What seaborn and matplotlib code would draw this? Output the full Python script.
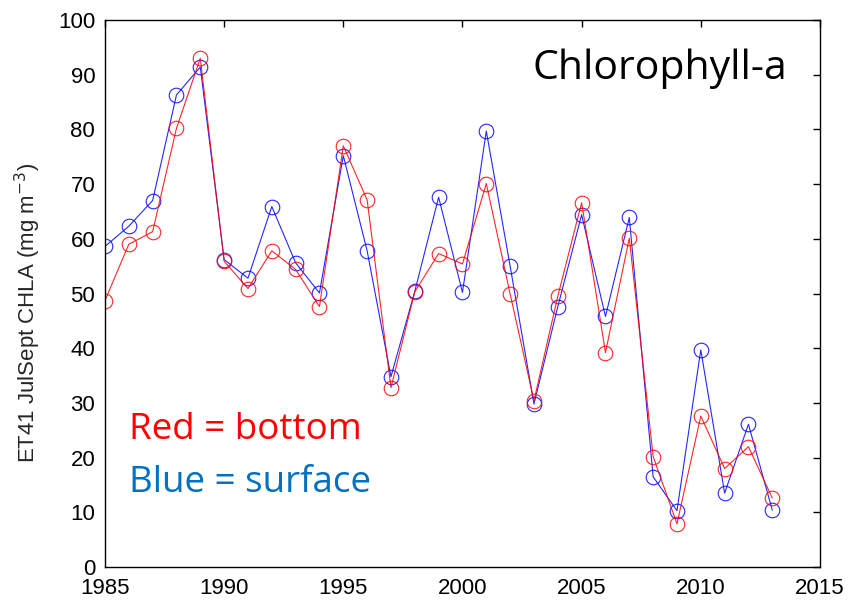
import matplotlib
matplotlib.use("Agg")
import matplotlib.pyplot as plt
import seaborn as sns
import pandas as pd

years = list(range(1985, 2014))
surface = [58.6, 62.3, 67.0, 86.3, 91.4, 56.2, 52.8, 65.9, 55.6, 50.1,
           75.2, 57.8, 34.8, 50.4, 67.6, 50.2, 79.7, 55.0, 29.8, 47.6,
           64.4, 45.8, 63.9, 16.5, 10.3, 39.7, 13.5, 26.1, 10.4]
bottom = [48.7, 59.0, 61.3, 80.2, 93.0, 55.9, 50.9, 57.8, 54.4, 47.6,
          77.0, 67.1, 32.8, 50.3, 57.3, 55.4, 70.1, 49.9, 30.4, 49.5,
          66.6, 39.2, 60.1, 20.2, 7.9, 27.6, 18.0, 22.0, 12.6]
xticks = [1985, 1990, 1995, 2000, 2005, 2010, 2015]
yticks = list(range(0, 101, 10))

sns.set_theme(style="white")
plt.rcParams["font.family"] = ["Liberation Sans", "DejaVu Sans"]

fig = plt.figure(figsize=(8.52, 6.02), dpi=100)
ax = fig.add_axes([0.1232, 0.0581, 0.8392, 0.9087])

surf_df = pd.DataFrame({"year": years, "chla": surface})
bot_df = pd.DataFrame({"year": years, "chla": bottom})

style = dict(marker="o", markersize=10.5, markerfacecolor="none",
             markeredgewidth=0.8, linewidth=0.8, alpha=0.85)
sns.lineplot(data=surf_df, x="year", y="chla", ax=ax, color="#0000ff",
             markeredgecolor="#0000ff", **style)
sns.lineplot(data=bot_df, x="year", y="chla", ax=ax, color="#ff0000",
             markeredgecolor="#ff0000", **style)

ax.set_xlim(1985, 2015)
ax.set_ylim(0, 100)
ax.set_xticks(xticks)
ax.set_yticks(yticks)
ax.set_xticklabels([str(t) for t in xticks])
ax.set_yticklabels([str(t) for t in yticks])
ax.tick_params(direction="in", length=5, width=1, top=True, right=True,
               labelsize=16, colors="black")
ax.tick_params(axis="y", pad=7)
ax.tick_params(axis="x", pad=8)
for s in ax.spines.values():
    s.set_visible(True)
    s.set_color("black")
    s.set_linewidth(1.0)
ax.set_xlabel("")
ax.set_ylabel("ET41 JulSept CHLA (mg m$^{-3}$)", fontsize=16)
ax.yaxis.set_label_coords(-0.087, 0.465)

title_font = ["Open Sans", "DejaVu Sans"]
ax.text(0.954, 0.892, "Chlorophyll-a", transform=ax.transAxes,
        ha="right", va="baseline", fontsize=29.5, family=title_font,
        color="black")
ax.text(0.034, 0.234, "Red = bottom", transform=ax.transAxes,
        ha="left", va="baseline", fontsize=26.5, family=title_font,
        color="#ff0000")
ax.text(0.034, 0.138, "Blue = surface", transform=ax.transAxes,
        ha="left", va="baseline", fontsize=26.5, family=title_font,
        color="#0070c0")

fig.savefig("out.png", dpi=100)
